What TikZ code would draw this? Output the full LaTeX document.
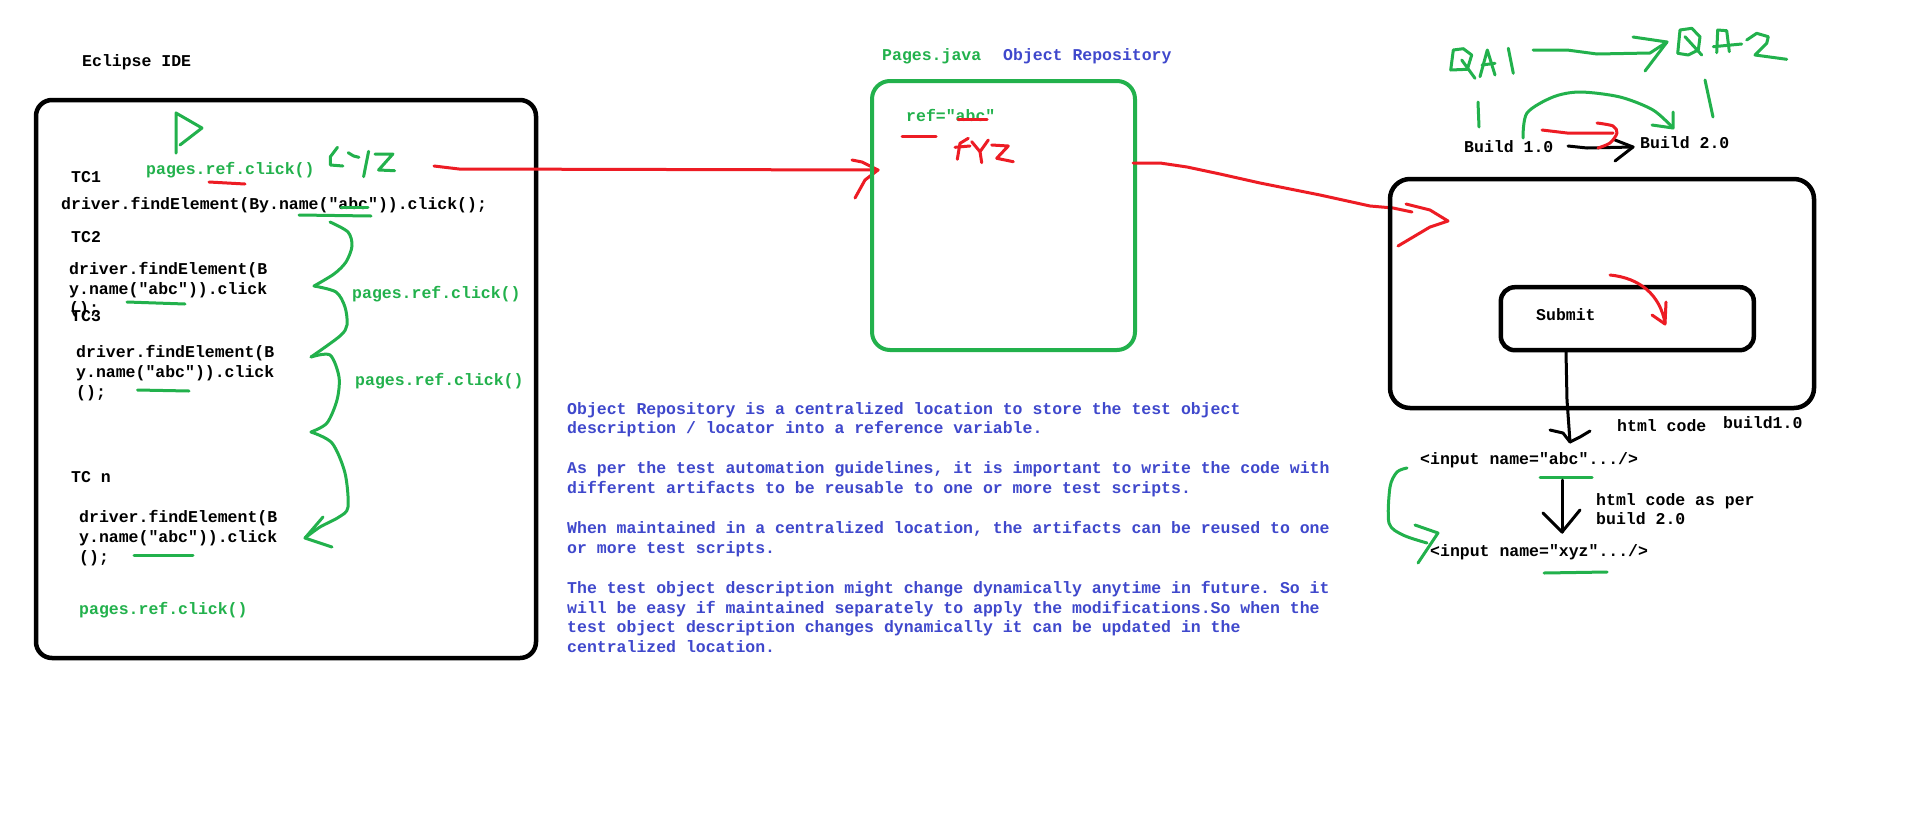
\documentclass[tikz,border=0pt]{standalone}
\usepackage{fontspec}
\setmonofont{Liberation Mono}
\usepackage{xcolor}
\usepackage{tikz}

\definecolor{pgreen}{RGB}{34,177,76}
\definecolor{pred}{RGB}{237,28,36}
\definecolor{pblue}{RGB}{63,72,204}
\newcommand{\codefont}{\ttfamily\bfseries\fontsize{16.5}{20}\selectfont}

\begin{document}
\begin{tikzpicture}[x=1pt, y=-1pt,
    code/.style={font=\codefont, inner sep=0pt, anchor=base west},
    greencode/.style={code, text=pgreen},
    bluecode/.style={code, text=pblue},
    pen/.style={line width=3pt, line cap=round, line join=round},
    greenpen/.style={pen, pgreen},
    redpen/.style={pen, pred},
    blackpen/.style={pen, black},
    frame/.style={draw, line width=4.5pt, rounded corners=16pt}]
\useasboundingbox[fill=white] (0,0) rectangle (1914,828);

% Eclipse side
\node[code] (eclipse) at (82,66) {Eclipse IDE};
\node[frame, minimum width=500pt, minimum height=558pt] (ide) at (286,379) {};

\draw[greenpen] (176,153) -- (176,113) -- (202,128) -- (180,145);
\node[greencode] (click1) at (146,174) {pages.ref.click()};
\draw[redpen] (209,182) -- (245,184);
\draw[greenpen] (337.5,147.3) -- (330.4,156.7) -- (330.4,165) -- (342.9,166);
\draw[greenpen] (348.2,152.7) -- (353.6,156) -- (358.9,157.3);
\draw[greenpen] (368.6,151.3) -- (363.6,176.7);
\draw[greenpen] (375,154) -- (392.9,154) -- (378.6,170) -- (394.6,170.7);

\node[code] (tc1) at (71,182) {TC1};
\node[code] (tc1code) at (61,209) {driver.findElement(By.name("abc")).click();};
\draw[greenpen] (299,215) -- (371,216);
\draw[greenpen] (341,207) -- (368,207);

\node[code] (tc2) at (71,242) {TC2};
\node[code] (tc2a) at (69,274) {driver.findElement(B};
\node[code] (tc2b) at (69,294) {y.name("abc")).click};
\node[code] (tc2c) at (69,313) {();};
\draw[greenpen] (127,302) -- (185,304);

\node[code] (tc3) at (71,321) {TC3};
\node[code] (tc3a) at (76,357) {driver.findElement(B};
\node[code] (tc3b) at (76,377) {y.name("abc")).click};
\node[code] (tc3c) at (76,397) {();};
\draw[greenpen] (137.5,390) -- (189,391);

\node[code] (tcn) at (71,482) {TC n};
\node[code] (tcna) at (79,522) {driver.findElement(B};
\node[code] (tcnb) at (79,542) {y.name("abc")).click};
\node[code] (tcnc) at (79,562) {();};
\draw[greenpen] (134,555) -- (193,555);
\node[greencode] (click4) at (79,614) {pages.ref.click()};

% brace of calls
\draw[greenpen] plot[smooth] coordinates {(330,222) (348,232) (352,246) (346,262) (334,274) (314,286)};
\draw[greenpen] plot[smooth] coordinates {(314,286) (336,292) (345,307) (347,325) (340,336) (311,357)};
\draw[greenpen] plot[smooth] coordinates {(311,357) (330,355) (339,377) (337,400) (327,423) (311,432)};
\draw[greenpen] plot[smooth] coordinates {(311,432) (332,443) (345,473) (348,507) (339,517) (320,527) (305,538)};
\draw[greenpen] (323,517) -- (305,538) -- (332,547);
\node[greencode] (click2) at (352,298) {pages.ref.click()};
\node[greencode] (click3) at (355,385) {pages.ref.click()};

% to the repository
\coordinate (xyzend) at (434,166);
\coordinate (pagesin) at (878,170);
\draw[redpen] (xyzend) -- (459,169) -- (pagesin);
\draw[redpen] (852,160) -- (862,162) -- (pagesin) -- (865,180) -- (855,198);

% Pages.java
\node[greencode] (pagesjava) at (882,60) {Pages.java};
\node[bluecode] (repotitle) at (1003,60) {Object Repository};
\node[frame, draw=pgreen, line width=4pt, rounded corners=18pt,
      minimum width=263pt, minimum height=269pt] (pages) at (1003.5,215.5) {};
\node[greencode] (ref) at (906,121) {ref="abc"};
\draw[redpen] (958,119) -- (987,119);
\draw[redpen] (902,136) -- (936,136);
\draw[redpen] (968.3,138.3) -- (960,143.3) -- (957.3,159.3);
\draw[redpen] (955,147.3) -- (970,146);
\draw[redpen] (971.7,141.7) -- (980,151.7) -- (988.3,140);
\draw[redpen] (980,151.7) -- (981.7,162.7);
\draw[redpen] (991.7,145) -- (1008.3,146) -- (996.7,158.3) -- (1013.3,161.7);

% description
\foreach \ln/\txt in {0/{Object Repository is a centralized location to store the test object},
    1/{description / locator into a reference variable.},
    3/{As per the test automation guidelines, it is important to write the code with},
    4/{different artifacts to be reusable to one or more test scripts.},
    6/{When maintained in a centralized location, the artifacts can be reused to one},
    7/{or more test scripts.},
    9/{The test object description might change dynamically anytime in future. So it},
    10/{will be easy if maintained separately to apply the modifications.So when the},
    11/{test object description changes dynamically it can be updated in the},
    12/{centralized location.}}
  \node[bluecode] (desc\ln) at (567,414+19.9*\ln) {\txt};

% application
\coordinate (pagesout) at (1133,163);
\coordinate (appin) at (1412,212);
\draw[redpen] (pagesout) -- (1160,163) -- (1187,167) -- (1220,174) -- (1260,183)
    -- (1320,195) -- (1370,206) -- (1393,208) -- (appin);
\draw[redpen] (1406,204) -- (1430,210) -- (1448,221) -- (1430,227) -- (1398,246);

\node[frame, minimum width=424pt, minimum height=229pt, rounded corners=20pt] (app) at (1602,293.5) {};
\node[frame, minimum width=253pt, minimum height=63pt, rounded corners=14pt] (submitbtn) at (1627.3,318.7) {};
\node[code] (submit) at (1536,320) {Submit};
\draw[redpen] (1610,275) .. controls (1640,278) and (1660,295) .. (1665,323);
\draw[redpen] (1652,315) -- (1665,324) -- (1666,302);

\coordinate (abcin) at (1570,442);
\draw[blackpen] (1566,352) -- (1567,400) -- (abcin);
\draw[blackpen] (1550,430) -- (1563,433) -- (abcin) -- (1580,437) -- (1590,431);
\node[code] (htmlcode) at (1617,431) {html code};
\node[code] (buildlabel) at (1723,428) {build1.0};
\node[code] (inputabc) at (1420,464) {<input name="abc".../>};
\draw[greenpen] (1540,477) -- (1592,477);

\coordinate (xyzin) at (1562,532);
\draw[blackpen] (1562,480) -- (xyzin);
\draw[blackpen] (1543,513) -- (xyzin) -- (1580,510);
\node[code] (htmlcode2a) at (1596,505) {html code as per};
\node[code] (htmlcode2b) at (1596,524) {build 2.0};
\node[code] (inputxyz) at (1430,556) {<input name="xyz".../>};
\draw[greenpen] (1544,573) -- (1607,572);
\draw[greenpen] plot[smooth] coordinates {(1407,468) (1397,472) (1390,487) (1389,523) (1403,535) (1427,543)};
\draw[greenpen] (1415,525) -- (1438,533) -- (1418,563);

% builds and QA
\node[code] (build1) at (1464,152) {Build 1.0};
\node[code] (build2) at (1640,148) {Build 2.0};
\draw[blackpen] (1568,146) -- (1587,148) -- (1633,147);
\draw[blackpen] (1615,140) -- (1633,147) -- (1615,161);
\draw[redpen] (1542,130) -- (1567,133) -- (1613,133);
\draw[redpen] plot[smooth] coordinates {(1597,123) (1613,126) (1617,133) (1610,143) (1598,148)};
\draw[greenpen] plot[smooth] coordinates {(1523,138) (1527,113) (1553,97) (1580,92) (1620,97) (1653,110) (1673,128)};
\draw[greenpen] (1652,125) -- (1673,128) -- (1673,112);

\draw[greenpen] (1453.3,50) -- (1450.7,70) -- (1467.3,69.3) -- (1471.7,55) -- (1463.3,48.7) -- cycle;
\draw[greenpen] (1461.7,60) -- (1475,78.3);
\draw[greenpen] (1480,76.7) -- (1487.3,50) -- (1495,75);
\draw[greenpen] (1482,65) -- (1495,63.3);
\draw[greenpen] (1508.3,48.3) -- (1513.3,73.3);
\draw[greenpen] (1533,50) -- (1567,50) -- (1597,54) -- (1650,53) -- (1667,42);
\draw[greenpen] (1633,37) -- (1667,42) -- (1645,71);
\draw[greenpen] (1680,30) -- (1677.7,53.3) -- (1688.3,55) -- (1698.3,50) -- (1700,36.7) -- (1691.7,28.3) -- cycle;
\draw[greenpen] (1685,36.7) -- (1701.7,55);
\draw[greenpen] (1716.7,52.7) -- (1717.7,30) -- (1726.7,30.7) -- (1729.3,51.7);
\draw[greenpen] (1713.3,46.7) -- (1741.7,44);
\draw[greenpen] (1746.7,40) -- (1756.7,33.3) -- (1768.3,36.7) -- (1766.7,43.3) -- (1755,55) -- (1786.7,59.3);
\draw[greenpen] (1478,102) -- (1479,127);
\draw[greenpen] (1705,80) -- (1713,117);
\end{tikzpicture}
\end{document}
